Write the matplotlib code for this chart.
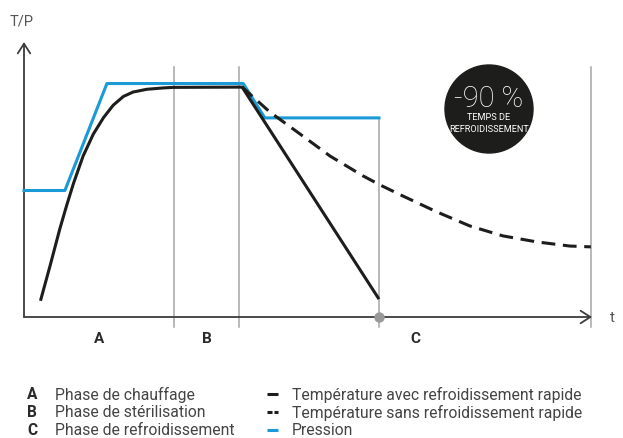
import matplotlib.pyplot as plt
from matplotlib.patches import Circle

plt.rcParams['font.family'] = ['Roboto', 'DejaVu Sans']

# Données (temps t en %, niveau T/P en %)
phase_limits = [0, 26.4, 37.85, 99.8]
phase_names = ["A", "B", "C"]
t_fin_rapide = 62.5

t_pression = [0, 7.2, 14.6, 38.6, 42.4, 62.5]
pression = [46.0, 46.0, 84.9, 84.9, 72.4, 72.4]

t_rapide = [2.9, 4.6, 6.3, 7.5, 8.7, 10.4, 12.2, 14.0, 15.7, 17.5, 19.2,
            21.6, 24.5, 26.3, 38.4, 62.5]
temp_rapide = [5.9, 18.7, 32.0, 40.5, 48.5, 58.5, 66.5, 72.5, 77.0, 80.2, 81.8,
               82.8, 83.3, 83.5, 83.6, 6.5]

t_lent = [38.4, 43.3, 48.1, 53.9, 59.7, 62.7, 66.7, 72.7, 78.5, 84.3, 90.3, 96.1, 99.8]
temp_lent = [83.6, 74.5, 67.3, 58.5, 51.3, 48.0, 44.0, 38.2, 33.1, 29.5, 27.3, 25.8, 25.5]

legende_phases = ["Phase de chauffage", "Phase de stérilisation", "Phase de refroidissement"]
legende_courbes = ["Température avec refroidissement rapide",
                   "Température sans refroidissement rapide",
                   "Pression"]

NOIR = "#1d1d1b"
BLEU = "#1a9ad6"
GRIS = "#a6a6a6"
AXE = "#3c3c3c"
TEXTE = "#444444"

W, H = 623, 439
fig = plt.figure(figsize=(W / 100, H / 100), dpi=100)

# zone du graphique (en pixels : x 24..592, y 318..43)
ax = fig.add_axes([24 / W, (H - 318) / H, (592 - 24) / W, (318 - 43) / H])
ax.set_xlim(0, 100)
ax.set_ylim(0, 100)
ax.axis("off")

# lignes de séparation des phases
for x in phase_limits[1:]:
    ax.plot([x, x], [-3.6, 90.9], color=GRIS, lw=1.1, clip_on=False, zorder=1)
ax.plot([t_fin_rapide, t_fin_rapide], [-3.6, pression[-1]], color=GRIS, lw=1.1,
        clip_on=False, zorder=1)

# axes avec flèches
for xy in [(100, 0), (0, 100)]:
    ax.annotate("", xy=xy, xytext=(0, 0),
                arrowprops=dict(arrowstyle="->,head_length=0.7,head_width=0.45",
                                color=AXE, lw=1.3, shrinkA=0, shrinkB=0))

# courbes
ax.plot(t_pression, pression, color=BLEU, lw=2.2, zorder=3, clip_on=False)
ax.plot(t_lent, temp_lent, color=NOIR, lw=2.2, ls=(0, (4.5, 2.5)), zorder=4, clip_on=False)
ax.plot(t_rapide, temp_rapide, color=NOIR, lw=2.2, zorder=4, clip_on=False,
        solid_capstyle="butt", solid_joinstyle="round")

ax.plot([t_fin_rapide], [0], "o", color="#999999", ms=6.5, zorder=5, clip_on=False)

# lettres des phases
for i, name in enumerate(phase_names):
    xm = (phase_limits[i] + phase_limits[i + 1]) / 2
    ax.text(xm, -7.8, name, ha="center", va="center", fontsize=11,
            fontweight="bold", color="#2a2a2a")

# calque en pixels pour les textes et la légende
lay = fig.add_axes([0, 0, 1, 1], zorder=-1)
lay.set_xlim(0, W)
lay.set_ylim(H, 0)
lay.axis("off")

lay.text(10, 21, "T/P", ha="left", va="center", fontsize=10.5, color="#555555")
lay.text(610, 318, "t", ha="left", va="center", fontsize=11, color="#555555")

# pastille -90 %
ov = fig.add_axes([0, 0, 1, 1], zorder=5)
ov.set_xlim(0, W)
ov.set_ylim(H, 0)
ov.axis("off")
ov.add_patch(Circle((489, 110), 44, color="#1d1d1b"))
ov.text(489, 99, "-90 %", ha="center", va="center", fontsize=21,
        fontweight="light", color="white")
ov.text(489, 117.5, "TEMPS DE", ha="center", va="center", fontsize=6.6,
        color="white", family=["Liberation Sans Narrow", "Roboto"])
ov.text(489, 129.5, "REFROIDISSEMENT", ha="center", va="center", fontsize=6.6,
        color="white", family=["Liberation Sans Narrow", "Roboto"])

# légende
rows = [395, 413, 431]
for y, lettre, lab in zip(rows, phase_names, legende_phases):
    lay.text(27, y, lettre, ha="left", va="center", fontsize=11.2,
             fontweight="bold", color="#2a2a2a")
    lay.text(55, y, lab, ha="left", va="center", fontsize=11.3, color=TEXTE)

styles = [("-", NOIR), ("--", NOIR), ("-", BLEU)]
for y, (st, col), lab in zip(rows, styles, legende_courbes):
    if st == "-":
        lay.plot([267, 278], [y, y], color=col, lw=2.2, solid_capstyle="butt")
    else:
        lay.plot([267, 271.5], [y, y], color=col, lw=2.2, solid_capstyle="butt")
        lay.plot([273.5, 278], [y, y], color=col, lw=2.2, solid_capstyle="butt")
    lay.text(292, y, lab, ha="left", va="center", fontsize=11.3, color=TEXTE)

fig.savefig("out.png", dpi=100)
